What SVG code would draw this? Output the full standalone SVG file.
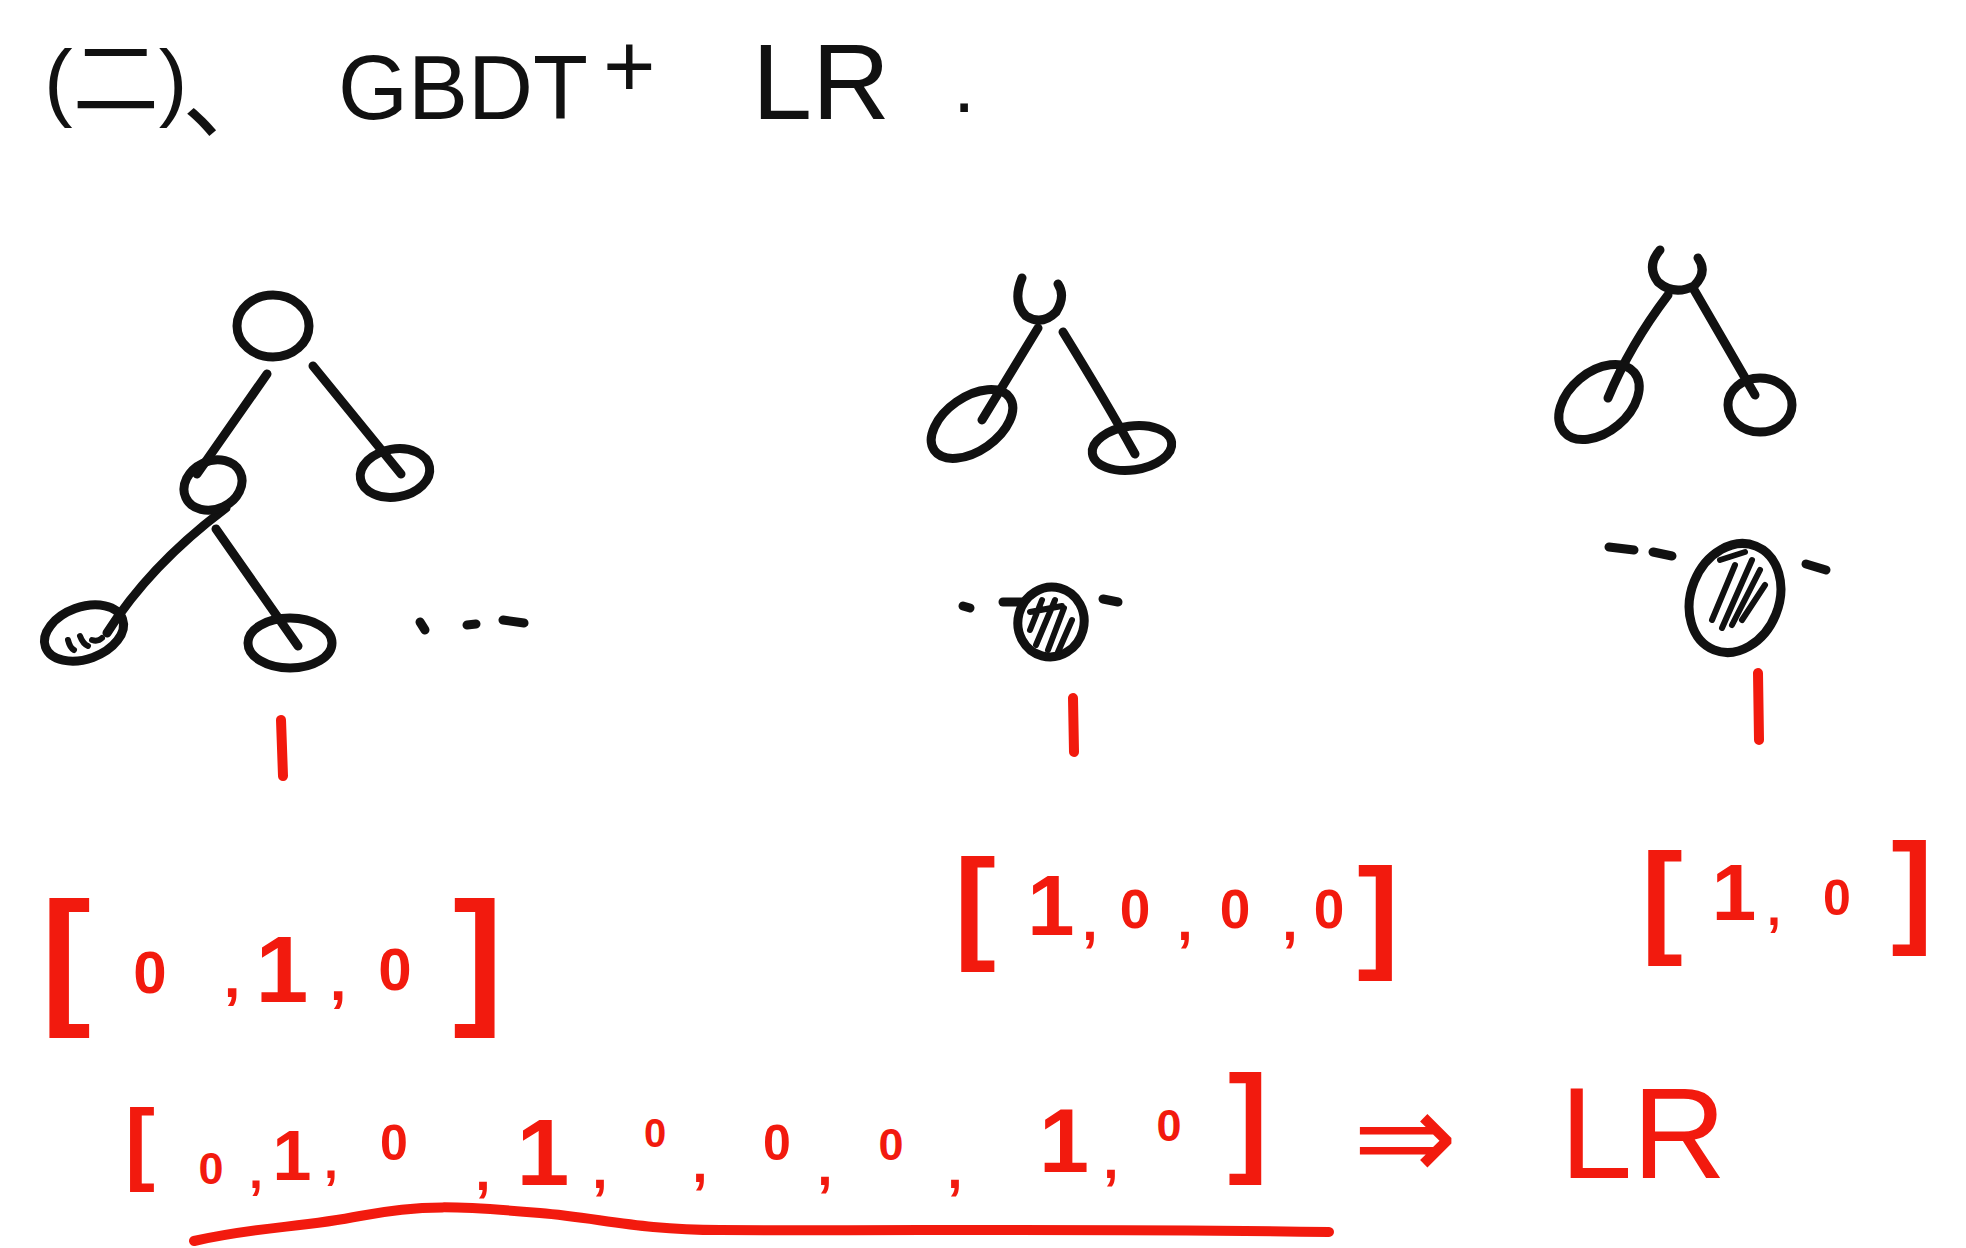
<svg xmlns="http://www.w3.org/2000/svg" width="1966" height="1248" viewBox="0 0 1966 1248">
<style>
.ink{stroke:#111;stroke-width:9;fill:none;stroke-linecap:round;stroke-linejoin:round}
.hatch{stroke:#111;stroke-width:6;fill:none;stroke-linecap:round}
.red{stroke:#f21a0e;stroke-width:10;fill:none;stroke-linecap:round;stroke-linejoin:round}
.t{font-family:"Liberation Sans","Noto Sans CJK SC",sans-serif;fill:#111}
.v{font-family:"Liberation Sans",sans-serif;fill:#f21a0e;font-weight:bold;text-anchor:middle}
</style>
<rect width="1966" height="1248" fill="#fff"/>
<g id="title">
<text class="t" x="44" y="110" font-size="86">(二)</text>
<text class="t" x="182" y="130" font-size="100">、</text>
<text class="t" x="338" y="119" font-size="90">GBDT</text>
<text class="t" x="603" y="97" font-size="90">+</text>
<text class="t" x="752" y="119" font-size="108">LR</text>
<text class="t" x="953" y="112" font-size="80">.</text>
</g>
<g id="connectors">
<line class="ink" x1="267" y1="374" x2="197" y2="474"/>
<line class="ink" x1="313" y1="366" x2="401" y2="474"/>
<path class="ink" d="M226 508 Q150 565 107 633"/>
<line class="ink" x1="216" y1="529" x2="298" y2="646"/>
<line class="ink" x1="1038" y1="328" x2="982" y2="420"/>
<path class="ink" d="M1063 332 Q1105 400 1135 454"/>
<path class="ink" d="M1668 295 Q1630 345 1608 398"/>
<line class="ink" x1="1693" y1="288" x2="1755" y2="395"/>
<line class="red" x1="281" y1="720" x2="283" y2="776"/>
<line class="red" x1="1073" y1="698" x2="1074" y2="752"/>
<line class="red" x1="1758" y1="673" x2="1759" y2="740"/>
</g>
<g id="tree1-root"><ellipse class="ink" cx="273" cy="326" rx="36" ry="31"/></g>
<g id="tree1-mid"><ellipse class="ink" cx="213" cy="485" rx="30" ry="24" transform="rotate(-25 213 485)"/></g>
<g id="tree1-right"><ellipse class="ink" cx="395" cy="473" rx="35" ry="24" transform="rotate(-10 395 473)"/></g>
<g id="tree1-leaf-left"><ellipse class="ink" cx="84" cy="633" rx="41" ry="26" transform="rotate(-20 84 633)"/>
<path class="hatch" d="M68 640 q2 8 6 10 M80 636 q3 8 8 10 M92 640 q6 2 10 -2"/></g>
<g id="tree1-leaf-right"><ellipse class="ink" cx="290" cy="643" rx="42" ry="25"/></g>
<g id="tree1-more">
<line class="ink" x1="420" y1="622" x2="425" y2="630"/>
<line class="ink" x1="467" y1="625" x2="476" y2="624"/>
<line class="ink" x1="503" y1="620" x2="524" y2="623"/>
</g>
<g id="tree2-root"><path class="ink" d="M1022 278 Q1012 302 1026 316 Q1042 326 1056 312 Q1066 296 1058 284"/></g>
<g id="tree2-leaf-left"><ellipse class="ink" cx="972" cy="424" rx="46" ry="27" transform="rotate(-35 972 424)"/></g>
<g id="tree2-leaf-right"><ellipse class="ink" cx="1132" cy="448" rx="40" ry="22" transform="rotate(-8 1132 448)"/></g>
<g id="tree2-hit">
<line class="ink" x1="963" y1="606" x2="970" y2="608"/>
<line class="ink" x1="1003" y1="602" x2="1022" y2="602"/>
<line class="ink" x1="1103" y1="599" x2="1118" y2="602"/>
<ellipse class="ink" cx="1051" cy="622" rx="33" ry="35" transform="rotate(15 1051 622)"/>
<path class="hatch" d="M1030 630 L1042 600 M1036 645 L1055 600 M1048 650 L1064 608 M1058 652 L1072 620 M1030 612 L1062 606"/>
</g>
<g id="tree3-root"><path class="ink" d="M1660 250 Q1646 266 1658 282 Q1674 296 1694 286 Q1708 272 1698 258"/></g>
<g id="tree3-leaf-left"><ellipse class="ink" cx="1599" cy="402" rx="46" ry="30" transform="rotate(-40 1599 402)"/></g>
<g id="tree3-leaf-right"><ellipse class="ink" cx="1760" cy="405" rx="32" ry="27"/></g>
<g id="tree3-hit">
<line class="ink" x1="1609" y1="547" x2="1634" y2="550"/>
<line class="ink" x1="1653" y1="552" x2="1672" y2="556"/>
<line class="ink" x1="1806" y1="564" x2="1826" y2="570"/>
<ellipse class="ink" cx="1735" cy="598" rx="44" ry="56" transform="rotate(22 1735 598)"/>
<path class="hatch" d="M1712 620 L1735 565 M1722 628 L1752 560 M1732 625 L1760 570 M1742 620 L1765 585 M1720 560 L1745 552"/>
</g>
<g id="vector1">
<text class="v" font-size="150" x="66" y="1007">[</text>
<text class="v" font-size="60" x="150" y="993">0</text>
<text class="v" font-size="60" x="232" y="997">,</text>
<text class="v" font-size="95" x="282" y="1002">1</text>
<text class="v" font-size="60" x="338" y="1000">,</text>
<text class="v" font-size="60" x="395" y="990">0</text>
<text class="v" font-size="150" x="478" y="1007">]</text>
</g>
<g id="vector2">
<text class="v" font-size="125" x="975" y="946">[</text>
<text class="v" font-size="85" x="1051" y="935">1</text>
<text class="v" font-size="55" x="1090" y="940">,</text>
<text class="v" font-size="55" x="1135" y="928">0</text>
<text class="v" font-size="55" x="1185" y="940">,</text>
<text class="v" font-size="55" x="1235" y="928">0</text>
<text class="v" font-size="55" x="1290" y="940">,</text>
<text class="v" font-size="55" x="1329" y="928">0</text>
<text class="v" font-size="125" x="1378" y="955">]</text>
</g>
<g id="vector3">
<text class="v" font-size="125" x="1662" y="940">[</text>
<text class="v" font-size="80" x="1734" y="920">1</text>
<text class="v" font-size="50" x="1774" y="925">,</text>
<text class="v" font-size="50" x="1837" y="915">0</text>
<text class="v" font-size="125" x="1912" y="930">]</text>
</g>
<g id="combined">
<text class="v" font-size="90" x="140" y="1173">[</text>
<text class="v" font-size="45" x="211" y="1184">0</text>
<text class="v" font-size="50" x="256" y="1188">,</text>
<text class="v" font-size="70" x="292" y="1180">1</text>
<text class="v" font-size="50" x="331" y="1178">,</text>
<text class="v" font-size="50" x="394" y="1160">0</text>
<text class="v" font-size="55" x="483" y="1190">,</text>
<text class="v" font-size="95" x="543" y="1185">1</text>
<text class="v" font-size="55" x="600" y="1188">,</text>
<text class="v" font-size="40" x="655" y="1147">0</text>
<text class="v" font-size="55" x="700" y="1182">,</text>
<text class="v" font-size="50" x="777" y="1160">0</text>
<text class="v" font-size="55" x="825" y="1185">,</text>
<text class="v" font-size="45" x="891" y="1160">0</text>
<text class="v" font-size="55" x="955" y="1188">,</text>
<text class="v" font-size="90" x="1064" y="1172">1</text>
<text class="v" font-size="55" x="1111" y="1178">,</text>
<text class="v" font-size="45" x="1169" y="1141">0</text>
<text class="v" font-size="120" x="1248" y="1160">]</text>
<text class="v" font-size="125" x="1405" y="1180" style="font-family:'DejaVu Sans',sans-serif;font-weight:normal">⇒</text>
<text class="v" font-size="130" x="1643" y="1178" style="font-weight:normal">LR</text>
<path class="red" stroke-width="12" d="M194 1241 C260 1226 300 1228 360 1216 C420 1204 460 1206 540 1213 C600 1218 640 1230 720 1230 C900 1231 1100 1228 1329 1232"/>
</g>
</svg>
